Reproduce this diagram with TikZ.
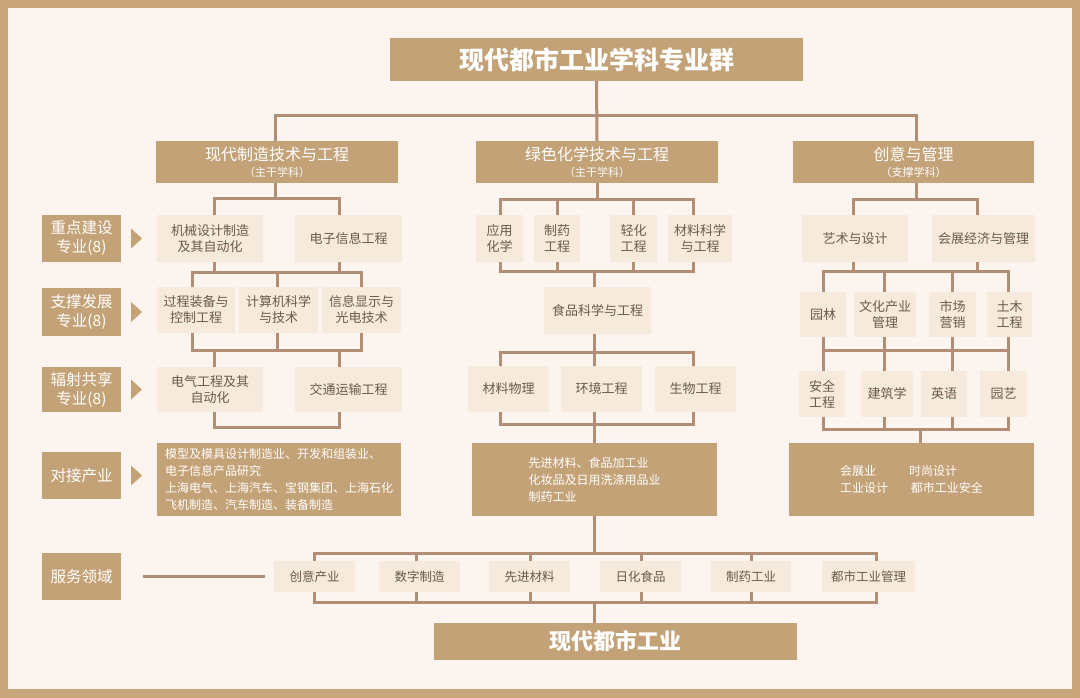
\documentclass[tikz,border=0pt]{standalone}
\usepackage{fontspec}
\setmainfont{Noto Sans CJK SC}
\usetikzlibrary{calc}
\definecolor{cborder}{HTML}{C8A57A}
\definecolor{cbg}{HTML}{FCF5EF}
\definecolor{cdark}{HTML}{C4A277}
\definecolor{clight}{HTML}{F6EADC}
\definecolor{cline}{HTML}{B38E76}
\definecolor{ctext}{HTML}{6A5A4C}
\newcommand\mybox[7]{\node[#2, minimum width={#5-#3}, minimum height={#6-#4}] (#1) at ({(#3+#5)/2},{(#4+#6)/2}) {#7};}
\tikzset{
  darkbox/.style={fill=cdark, text=white, inner sep=0pt, outer sep=0pt, align=center},
  lightbox/.style={fill=clight, text=ctext, inner sep=0pt, outer sep=0pt, align=center, font=\fontsize{13}{16}\selectfont},
  svcbox/.style={lightbox, font=\fontsize{12.5}{15}\selectfont},
  lblbox/.style={darkbox, font=\fontsize{15.5}{19}\selectfont},
  headbox/.style={darkbox, font=\fontsize{11}{15}\selectfont},
  indbox/.style={darkbox, align=left, font=\fontsize{12}{17}\selectfont},
  ln/.style={draw=cline, line width=3pt, line join=miter},
  tri/.style={fill=cdark},
}
\begin{document}
\begin{tikzpicture}[x=1pt,y=-1pt]
\useasboundingbox (0,0) rectangle (1080,698);
\fill[cborder] (0,0) rectangle (1080,698);
\fill[cbg] (8,8) rectangle (1072,689);
% column and bar coordinates
\coordinate (xA) at (275,0); \coordinate (xa) at (214,0); \coordinate (xb) at (339,0);
\coordinate (xc) at (192,0); \coordinate (xd) at (277,0); \coordinate (xe) at (361,0);
\coordinate (xB) at (597,0); \coordinate (xm1) at (500,0); \coordinate (xm2) at (557,0);
\coordinate (xm3) at (633,0); \coordinate (xm4) at (693,0); \coordinate (xmc) at (594,0);
\coordinate (xC) at (916,0); \coordinate (xr1) at (853,0); \coordinate (xr2) at (977,0);
\coordinate (xr3) at (823,0); \coordinate (xr4) at (884,0); \coordinate (xr5) at (952,0);
\coordinate (xr6) at (1008,0); \coordinate (xrc) at (920,0);
\coordinate (xs1) at (314,0); \coordinate (xs2) at (416,0); \coordinate (xs3) at (530,0);
\coordinate (xs4) at (641,0); \coordinate (xs5) at (751,0); \coordinate (xs6) at (876,0);
\coordinate (yTop) at (0,116);
\coordinate (yL1) at (0,199); \coordinate (yL2) at (0,272); \coordinate (yL3) at (0,350); \coordinate (yL4) at (0,427);
\coordinate (yM1) at (0,200); \coordinate (yM2) at (0,271); \coordinate (yM3) at (0,352); \coordinate (yM4) at (0,424);
\coordinate (yR1) at (0,200); \coordinate (yR2) at (0,271); \coordinate (yR3) at (0,350); \coordinate (yR4) at (0,429);
\coordinate (yS1) at (0,553); \coordinate (yS2) at (0,602);
% title and heads
\mybox{title}{darkbox}{390}{38}{803}{81}{\fontsize{25}{30}\selectfont\bfseries 现代都市工业学科专业群}
\mybox{A}{headbox}{156}{141}{398}{183}{{\fontsize{16}{15}\selectfont 现代制造技术与工程}\\[1pt]（主干学科）}
\mybox{B}{headbox}{476}{141}{718}{183}{{\fontsize{16}{15}\selectfont 绿色化学技术与工程}\\[1pt]（主干学科）}
\mybox{C}{headbox}{793}{141}{1034}{183}{{\fontsize{16}{15}\selectfont 创意与管理}\\[1pt]（支撑学科）}
% row labels
\mybox{g1}{lblbox}{42}{215}{121}{262}{重点建设\\专业(8)}
\mybox{g2}{lblbox}{42}{288}{121}{336}{支撑发展\\专业(8)}
\mybox{g3}{lblbox}{42}{367}{121}{412}{辐射共享\\专业(8)}
\mybox{g4}{lblbox}{42}{452}{121}{499}{对接产业}
\mybox{g5}{lblbox}{42}{553}{121}{600}{服务领域}
\foreach \g in {g1,g2,g3,g4}{
  \fill[tri] ($(\g.east)+(10,-10)$) -- ($(\g.east)+(21,0)$) -- ($(\g.east)+(10,10)$) -- cycle;
}
% left column
\mybox{a1}{lightbox}{157}{215}{263}{262}{机械设计制造\\及其自动化}
\mybox{a2}{lightbox}{295}{215}{402}{262}{电子信息工程}
\mybox{b1}{lightbox}{157}{287}{235}{333}{过程装备与\\控制工程}
\mybox{b2}{lightbox}{239}{287}{318}{333}{计算机科学\\与技术}
\mybox{b3}{lightbox}{322}{287}{401}{333}{信息显示与\\光电技术}
\mybox{c1}{lightbox}{157}{367}{263}{412}{电气工程及其\\自动化}
\mybox{c2}{lightbox}{295}{367}{402}{412}{交通运输工程}
\mybox{dL}{indbox}{157}{443}{401}{516}{模型及模具设计制造业、开发和组装业、\\电子信息产品研究\\上海电气、上海汽车、宝钢集团、上海石化\\飞机制造、汽车制造、装备制造}
% middle column
\mybox{m1}{lightbox}{476}{215}{523}{262}{应用\\化学}
\mybox{m2}{lightbox}{534}{215}{580}{262}{制药\\工程}
\mybox{m3}{lightbox}{610}{215}{657}{262}{轻化\\工程}
\mybox{m4}{lightbox}{668}{215}{732}{262}{材料科学\\与工程}
\mybox{mf}{lightbox}{544}{287}{651}{334}{食品科学与工程}
\mybox{n1}{lightbox}{468}{366}{549}{412}{材料物理}
\mybox{n2}{lightbox}{561}{366}{642}{412}{环境工程}
\mybox{n3}{lightbox}{655}{366}{736}{412}{生物工程}
\mybox{dM}{indbox}{472}{443}{717}{516}{\fontsize{12}{16}\selectfont 先进材料、食品加工业\\化妆品及日用洗涤用品业\\制药工业}
% right column
\mybox{r1}{lightbox}{802}{215}{908}{262}{艺术与设计}
\mybox{r2}{lightbox}{932}{215}{1035}{262}{会展经济与管理}
\mybox{s1}{lightbox}{800}{292}{846}{337}{园林}
\mybox{s2}{lightbox}{854}{292}{916}{337}{文化产业\\管理}
\mybox{s3}{lightbox}{929}{292}{976}{337}{市场\\营销}
\mybox{s4}{lightbox}{987}{292}{1032}{337}{土木\\工程}
\mybox{t1}{lightbox}{799}{371}{845}{417}{安全\\工程}
\mybox{t2}{lightbox}{861}{371}{913}{417}{建筑学}
\mybox{t3}{lightbox}{921}{371}{967}{417}{英语}
\mybox{t4}{lightbox}{980}{371}{1027}{417}{园艺}
\mybox{dR}{indbox}{789}{443}{1034}{516}{\makebox[69pt][l]{会展业}时尚设计\\\makebox[71pt][l]{工业设计}都市工业安全}
% service row
\mybox{v1}{svcbox}{274}{561}{355}{592}{创意产业}
\mybox{v2}{svcbox}{379}{561}{460}{592}{数字制造}
\mybox{v3}{svcbox}{489}{561}{570}{592}{先进材料}
\mybox{v4}{svcbox}{600}{561}{681}{592}{日化食品}
\mybox{v5}{svcbox}{711}{561}{791}{592}{制药工业}
\mybox{v6}{svcbox}{822}{561}{915}{592}{都市工业管理}
\mybox{fin}{darkbox}{434}{623}{797}{660}{\fontsize{22}{26}\selectfont\bfseries 现代都市工业}
% connectors: top
\draw[ln] (title.south) -- (B.north);
\draw[ln] (A.north -| xA) |- (yTop -| xC) -- (C.north -| xC);
% left
\draw[ln] (A.south -| xA) -- (xA |- yL1);
\draw[ln] (a1.north -| xa) |- (yL1 -| xb) -- (a2.north -| xb);
\draw[ln] (a1.south -| xa) -- (xa |- yL2);
\draw[ln] (a2.south -| xb) -- (xb |- yL2);
\draw[ln] (b1.north -| xc) |- (yL2 -| xe) -- (b3.north -| xe);
\draw[ln] (b2.north -| xd) -- (xd |- yL2);
\draw[ln] (b1.south -| xc) |- (yL3 -| xe) -- (b3.south -| xe);
\draw[ln] (b2.south -| xd) -- (xd |- yL3);
\draw[ln] (xa |- yL3) -- (c1.north -| xa);
\draw[ln] (xb |- yL3) -- (c2.north -| xb);
\draw[ln] (c1.south -| xa) |- (yL4 -| xb) -- (c2.south -| xb);
% middle
\draw[ln] (B.south -| xB) -- (xB |- yM1);
\draw[ln] (m1.north -| xm1) |- (yM1 -| xm4) -- (m4.north -| xm4);
\draw[ln] (m2.north -| xm2) -- (xm2 |- yM1);
\draw[ln] (m3.north -| xm3) -- (xm3 |- yM1);
\draw[ln] (m1.south -| xm1) |- (yM2 -| xm4) -- (m4.south -| xm4);
\draw[ln] (m2.south -| xm2) -- (xm2 |- yM2);
\draw[ln] (m3.south -| xm3) -- (xm3 |- yM2);
\draw[ln] (xmc |- yM2) -- (mf.north -| xmc);
\draw[ln] (mf.south -| xmc) -- (xmc |- yM3);
\draw[ln] (n1.north -| xm1) |- (yM3 -| xm4) -- (n3.north -| xm4);
\draw[ln] (n2.north -| xmc) -- (xmc |- yM3);
\draw[ln] (n1.south -| xm1) |- (yM4 -| xm4) -- (n3.south -| xm4);
\draw[ln] (n2.south -| xmc) -- (dM.north -| xmc);
\draw[ln] (dM.south -| xmc) -- (xmc |- yS1);
% right
\draw[ln] (C.south -| xC) -- (xC |- yR1);
\draw[ln] (r1.north -| xr1) |- (yR1 -| xr2) -- (r2.north -| xr2);
\draw[ln] (r1.south -| xr1) -- (xr1 |- yR2);
\draw[ln] (r2.south -| xr2) -- (xr2 |- yR2);
\draw[ln] (s1.north -| xr3) |- (yR2 -| xr6) -- (s4.north -| xr6);
\draw[ln] (s2.north -| xr4) -- (xr4 |- yR2);
\draw[ln] (s3.north -| xr5) -- (xr5 |- yR2);
\draw[ln] (s1.south -| xr3) -- (t1.north -| xr3);
\draw[ln] (s2.south -| xr4) -- (t2.north -| xr4);
\draw[ln] (s3.south -| xr5) -- (t3.north -| xr5);
\draw[ln] (s4.south -| xr6) -- (t4.north -| xr6);
\draw[ln] (xr3 |- yR3) -- (xr6 |- yR3);
\draw[ln] (t1.south -| xr3) |- (yR4 -| xr6) -- (t4.south -| xr6);
\draw[ln] (t2.south -| xr4) -- (xr4 |- yR4);
\draw[ln] (t3.south -| xr5) -- (xr5 |- yR4);
\draw[ln] (xrc |- yR4) -- (dR.north -| xrc);
% service
\draw[ln] ($(g5.east)+(22,0)$) -- ($(v1.west)+(-9,0)$);
\draw[ln] (v1.north -| xs1) |- (yS1 -| xs6) -- (v6.north -| xs6);
\draw[ln] (v2.north -| xs2) -- (xs2 |- yS1);
\draw[ln] (v3.north -| xs3) -- (xs3 |- yS1);
\draw[ln] (v4.north -| xs4) -- (xs4 |- yS1);
\draw[ln] (v5.north -| xs5) -- (xs5 |- yS1);
\draw[ln] (v1.south -| xs1) |- (yS2 -| xs6) -- (v6.south -| xs6);
\draw[ln] (v2.south -| xs2) -- (xs2 |- yS2);
\draw[ln] (v3.south -| xs3) -- (xs3 |- yS2);
\draw[ln] (v4.south -| xs4) -- (xs4 |- yS2);
\draw[ln] (v5.south -| xs5) -- (xs5 |- yS2);
\draw[ln] (xmc |- yS2) -- (fin.north -| xmc);
\end{tikzpicture}
\end{document}
